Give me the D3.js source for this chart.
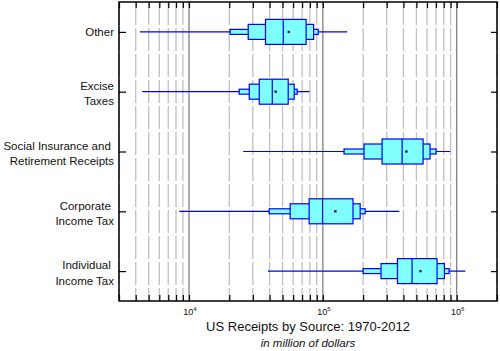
<!DOCTYPE html>
<html>
<head>
<meta charset="utf-8">
<script src="https://cdn.jsdelivr.net/npm/d3@7"></script>
<style>
  body { margin: 0; background: #fff; }
  text { font-family: "Liberation Sans", Arial, sans-serif; fill: #111; }
</style>
</head>
<body>
<div id="chart"></div>
<script>
// categories, top to bottom
var categories = ["Other", "Excise Taxes", "Social Insurance and Retirement Receipts",
                  "Corporate Income Tax", "Individual Income Tax"];
var labelLines = [["Other"], ["Excise", "Taxes"],
                  ["Social Insurance and\u00a0", "Retirement Receipts"],
                  ["Corporate\u00a0", "Income Tax"], ["Individual\u00a0", "Income Tax"]];

// letter-value summaries (million $)
var whiskerMin = [4300, 4480, 25400, 8470, 38900];
var outerLo    = [20300, 23700, 144000, 39700, 200000];
var midLo      = [27700, 28200, 203000, 57000, 272000];
var innerLo    = [37300, 33500, 277000, 79000, 361000];
var medians    = [50600, 41900, 391000, 99500, 464000];
var means      = [55700, 44400, 421000, 124000, 536000];
var innerHi    = [75000, 55100, 561000, 168000, 713000];
var midHi      = [85300, 61100, 632000, 190000, 809000];
var outerHi    = [92300, 64300, 701000, 207000, 877000];
var whiskerMax = [152000, 79600, 897000, 373000, 1161000];

var majorTicks = [1e4, 1e5, 1e6];

var margin = {top: 2, right: 3, bottom: 50, left: 119},
    width = 500 - margin.left - margin.right,
    height = 351 - margin.top - margin.bottom;

var svg = d3.select("#chart")
  .append("svg")
    .attr("width", 500)
    .attr("height", 351)
  .append("g")
    .attr("transform", "translate(" + margin.left + "," + margin.top + ")");

var x = d3.scaleLog()
    .domain([3000, 2e6])
    .range([0, width]);

var y = d3.scalePoint()
    .domain(categories)
    .range([0, height])
    .padding(0.5);

var allTicks = x.ticks();
var isMajor = function(t) { return majorTicks.indexOf(t) >= 0; };

// grid
svg.append("g")
  .selectAll("line")
  .data(allTicks)
  .enter()
  .append("line")
    .attr("x1", function(d) { return x(d); })
    .attr("x2", function(d) { return x(d); })
    .attr("y1", 0)
    .attr("y2", height)
    .attr("stroke", function(d) { return isMajor(d) ? "#808080" : "#c0c0c0"; })
    .attr("stroke-width", 1.3)
    .attr("stroke-dasharray", function(d) { return isMajor(d) ? null : "23,3"; });

// boxes
var rows = categories.map(function(c, i) {
  return {cat: c, min: whiskerMin[i], max: whiskerMax[i],
          levels: [[outerLo[i], outerHi[i], 5], [midLo[i], midHi[i], 15], [innerLo[i], innerHi[i], 25]],
          median: medians[i], mean: means[i]};
});

var box = svg.selectAll("g.box")
  .data(rows)
  .enter()
  .append("g")
    .attr("class", "box")
    .attr("transform", function(d) { return "translate(0," + y(d.cat) + ")"; });

box.append("line")
    .attr("x1", function(d) { return x(d.min); })
    .attr("x2", function(d) { return x(d.max); })
    .attr("stroke", "#0000ff")
    .attr("stroke-width", 1.2);

box.selectAll("rect")
  .data(function(d) { return d.levels; })
  .enter()
  .append("rect")
    .attr("x", function(d) { return x(d[0]); })
    .attr("width", function(d) { return x(d[1]) - x(d[0]); })
    .attr("y", function(d) { return -d[2] / 2; })
    .attr("height", function(d) { return d[2]; })
    .attr("fill", "#80ffff")
    .attr("stroke", "#0000ff")
    .attr("stroke-width", 1.2);

box.append("line")
    .attr("x1", function(d) { return x(d.median); })
    .attr("x2", function(d) { return x(d.median); })
    .attr("y1", -12.5)
    .attr("y2", 12.5)
    .attr("stroke", "#0000ff")
    .attr("stroke-width", 1.2);

box.append("rect")
    .attr("x", function(d) { return x(d.mean) - 1.2; })
    .attr("y", -1.2)
    .attr("width", 2.4)
    .attr("height", 2.4)
    .attr("fill", "#222");

// axes (ticks pointing inward)
function styleAxis(g) {
  g.select(".domain").remove();
  g.selectAll(".tick line").attr("stroke", "#000").attr("stroke-width", 1.2);
}

svg.append("g")
  .attr("transform", "translate(0," + height + ")")
  .call(d3.axisBottom(x).tickValues(allTicks).tickSize(-6).tickFormat(""))
  .call(styleAxis);

svg.append("g")
  .call(d3.axisTop(x).tickValues(allTicks).tickSize(-6).tickFormat(""))
  .call(styleAxis);

svg.append("g")
  .call(d3.axisLeft(y).tickSize(-7).tickFormat(""))
  .call(styleAxis);

svg.append("g")
  .attr("transform", "translate(" + width + ",0)")
  .call(d3.axisRight(y).tickSize(-6).tickFormat(""))
  .call(styleAxis);

// frame
svg.append("rect")
    .attr("width", width)
    .attr("height", height)
    .attr("fill", "none")
    .attr("stroke", "#000")
    .attr("stroke-width", 1.5);

// x tick labels 10^n
var xl = svg.selectAll("text.xl")
  .data(majorTicks)
  .enter()
  .append("text")
    .attr("class", "xl")
    .attr("x", function(d) { return x(d) + 1; })
    .attr("y", height + 14)
    .attr("text-anchor", "middle")
    .style("font-size", "9px");
xl.append("tspan").text("10");
xl.append("tspan")
    .attr("dy", -4)
    .style("font-size", "6px")
    .text(function(d) { return Math.round(Math.log10(d)); });

// category labels
var yl = svg.selectAll("text.yl")
  .data(categories)
  .enter()
  .append("text")
    .attr("class", "yl")
    .attr("text-anchor", "end")
    .style("font-size", "11.5px")
    .attr("transform", function(d) { return "translate(-5," + y(d) + ")"; });

yl.selectAll("tspan")
  .data(function(d, i) { return labelLines[i]; })
  .enter()
  .append("tspan")
    .attr("x", 0)
    .attr("y", function(d, j, nodes) {
      return nodes.length === 1 ? 4.3 : (j === 0 ? -1.7 : 13.8);
    })
    .text(function(d) { return d; });

// titles
svg.append("text")
    .attr("x", width / 2)
    .attr("y", height + 29.5)
    .attr("text-anchor", "middle")
    .style("font-size", "13px")
    .text("US Receipts by Source: 1970-2012");

svg.append("text")
    .attr("x", width / 2)
    .attr("y", height + 45.5)
    .attr("text-anchor", "middle")
    .style("font-size", "11.5px")
    .style("font-style", "italic")
    .text("in million of dollars");
</script>
</body>
</html>
